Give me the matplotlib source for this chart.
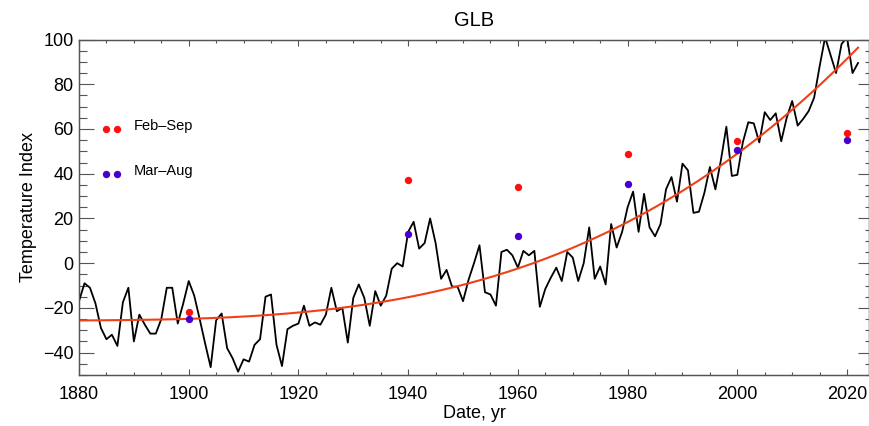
import numpy as np
import matplotlib
matplotlib.use("Agg")
import matplotlib.pyplot as plt
from matplotlib.ticker import MultipleLocator

plt.rcParams['font.family'] = ['Liberation Sans', 'DejaVu Sans']

# Annual global temperature index, 1880-2022
years = np.arange(1880, 2023)
index_values = [
    -17, -9, -11, -18, -29, -34, -32, -37, -17.5, -11,            # 1880s
    -35, -23, -27.5, -31.5, -31.5, -25, -11, -11, -27, -18,       # 1890s
    -8, -14.5, -25, -36, -46.5, -25.5, -22.5, -38, -42.5, -48.5,  # 1900s
    -43, -44, -36.5, -34, -15, -14, -36.5, -46, -29.5, -28,       # 1910s
    -27, -19, -28, -26.5, -27.5, -23, -11, -21.5, -20, -35.5,     # 1920s
    -15.5, -9.5, -15.5, -28, -12.5, -19, -14.5, -2.5, 0, -1.5,    # 1930s
    14, 18.5, 6.5, 9, 20, 9, -7, -3, -10.5, -10.5,                # 1940s
    -17, -7.5, 0, 8, -13, -14, -19, 5, 6, 3.5,                    # 1950s
    -2, 5.5, 3.5, 5.5, -19.5, -11.5, -6.5, -2, -8, 5,             # 1960s
    2.5, -8, 0, 16, -7, -1.5, -9.5, 17.5, 7, 14,                  # 1970s
    25, 32, 14, 31, 16, 12, 17.5, 33, 38.5, 27.5,                 # 1980s
    44.5, 41.5, 22.5, 23, 31.5, 43, 33, 46, 61, 39,               # 1990s
    39.5, 54, 63, 62.5, 54, 67.5, 64, 67, 54.5, 65,               # 2000s
    72.5, 61.5, 64.5, 68, 74, 88, 101, 93, 85, 98,                # 2010s
    101, 85, 89.5,                                                # 2020s
]

# Seasonal-window estimates at 20-year marks
season_years = [1900, 1940, 1960, 1980, 2000, 2020]
feb_sep = [-22, 37, 34, 49, 54.5, 58]
mar_aug = [-25, 13, 12, 35.5, 50.5, 55]

legend_labels = ['Feb–Sep', 'Mar–Aug']

RED = '#ff1010'
PURPLE = '#4a00cc'
FIT = '#f04018'

fig = plt.figure(figsize=(8.69, 4.26), dpi=100)
ax = fig.add_axes([79 / 869, 1 - 375 / 426, 790 / 869, (375 - 39.5) / 426])

ax.plot(years, index_values, color='black', lw=1.3, zorder=3)

# Cubic trend of the annual series
coef = np.polyfit(years - 1950, index_values, 3)
fit_years = np.linspace(1880, 2022, 300)
ax.plot(fit_years, np.polyval(coef, fit_years - 1950), color=FIT, lw=1.5, zorder=4)

ax.plot(season_years, feb_sep, 'o', color=RED, ms=5.3, mec='none', zorder=5)
ax.plot(season_years, mar_aug, 'o', color=PURPLE, ms=5.3, mec='none', zorder=5)

# Key in the upper-left corner
for yfrac, col, lab in [(110 / 150, RED, legend_labels[0]), (90 / 150, PURPLE, legend_labels[1])]:
    ax.plot([0.0342, 0.0481], [yfrac, yfrac], 'o', color=col, ms=5.3, mec='none',
            transform=ax.transAxes, clip_on=False)
    ax.text(0.0687, yfrac + 0.008, lab, transform=ax.transAxes, fontsize=10.5,
            ha='left', va='center')

ax.set_xlim(1880, 2024)
ax.set_ylim(-50, 100)
ax.xaxis.set_major_locator(MultipleLocator(20))
ax.xaxis.set_minor_locator(MultipleLocator(5))
ax.yaxis.set_major_locator(MultipleLocator(20))
ax.yaxis.set_minor_locator(MultipleLocator(5))

ax.tick_params(axis='x', which='major', direction='in', length=4.5, width=0.8,
               top=True, labelsize=13, pad=8, color='#555555')
ax.tick_params(axis='x', which='minor', direction='in', length=2.3, width=0.8,
               top=True, color='#555555')
ax.tick_params(axis='y', which='major', direction='in', length=10.5, width=0.8,
               labelsize=13, pad=4, color='#555555')
ax.tick_params(axis='y', which='minor', direction='in', length=5.5, width=0.8,
               color='#555555')

# Right-hand ticks, slightly shorter
axr = ax.twinx()
axr.set_ylim(ax.get_ylim())
axr.yaxis.set_major_locator(MultipleLocator(20))
axr.yaxis.set_minor_locator(MultipleLocator(5))
axr.tick_params(axis='y', which='major', direction='in', length=8, width=0.8,
                labelright=False, color='#555555')
axr.tick_params(axis='y', which='minor', direction='in', length=2.8, width=0.8,
                labelright=False, color='#555555')

for a in (ax, axr):
    for s in a.spines.values():
        s.set_color('#555555')
        s.set_linewidth(0.9)

ax.set_xlabel('Date, yr', fontsize=13, labelpad=1)
ax.set_ylabel('Temperature Index', fontsize=13, labelpad=4)
ax.set_title('GLB', fontsize=14.5, pad=10)

fig.savefig('out.png', dpi=100)
